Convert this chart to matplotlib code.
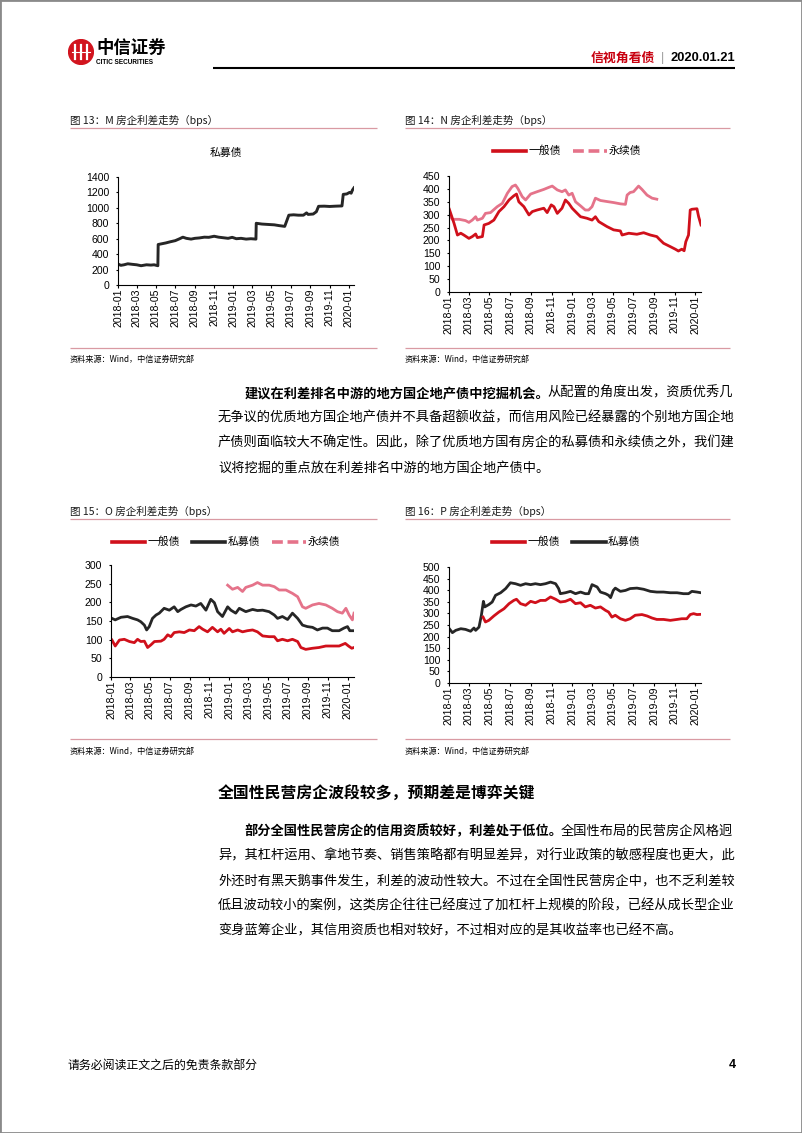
import matplotlib
matplotlib.use('Agg')
import matplotlib.pyplot as plt
import matplotlib.dates as mdates
from matplotlib.lines import Line2D
from matplotlib.patches import Circle, Rectangle
import pandas as pd

plt.rcParams['font.family'] = ['Noto Sans CJK SC', 'DejaVu Sans']

W, H = 802, 1133
RED = '#d0101b'
PINK = '#e5738a'
BLACK = '#262626'
RULE = '#d99aa3'
TICKFONT = ['Liberation Sans', 'DejaVu Sans']

# ---- chart 13: M 私募债
m_dates = ['2018-01-02', '2018-01-10', '2018-01-20', '2018-02-01', '2018-02-15', '2018-03-01',
           '2018-03-15', '2018-04-01', '2018-04-15', '2018-04-25', '2018-05-07', '2018-05-08',
           '2018-05-20', '2018-06-01', '2018-06-15', '2018-07-01', '2018-07-15', '2018-07-25',
           '2018-08-05', '2018-08-20', '2018-09-01', '2018-09-15', '2018-10-01', '2018-10-15',
           '2018-11-01', '2018-11-15', '2018-12-01', '2018-12-15', '2018-12-28', '2019-01-10',
           '2019-01-25', '2019-02-10', '2019-02-25', '2019-03-13', '2019-03-14', '2019-04-01',
           '2019-04-20', '2019-05-10', '2019-05-25', '2019-06-12', '2019-06-25', '2019-07-10',
           '2019-07-25', '2019-08-10', '2019-08-20', '2019-08-25', '2019-09-10', '2019-09-20',
           '2019-09-27', '2019-10-15', '2019-11-01', '2019-11-20', '2019-12-10', '2019-12-14',
           '2019-12-25', '2020-01-03', '2020-01-08', '2020-01-12', '2020-01-17']
m_private = [270, 255, 262, 275, 268, 262, 250, 262, 258, 262, 250, 525, 535, 545, 560, 575,
             600, 620, 605, 595, 605, 610, 620, 618, 632, 620, 612, 605, 618, 600, 605, 595,
             600, 595, 800, 790, 785, 780, 770, 760, 905, 910, 905, 905, 935, 915, 920, 950,
             1020, 1022, 1018, 1022, 1025, 1175, 1180, 1200, 1190, 1230, 1260]

# ---- chart 14: N 一般债 / 永续债
n_gen_dates = ['2018-01-02', '2018-01-16', '2018-01-26', '2018-02-05', '2018-02-14', '2018-03-01',
               '2018-03-11', '2018-03-21', '2018-03-26', '2018-04-10', '2018-04-15', '2018-04-29',
               '2018-05-14', '2018-05-29', '2018-06-13', '2018-06-28', '2018-07-12', '2018-07-20',
               '2018-07-27', '2018-08-11', '2018-08-26', '2018-09-05', '2018-09-19', '2018-10-09',
               '2018-10-19', '2018-10-31', '2018-11-08', '2018-11-18', '2018-12-02', '2018-12-12',
               '2018-12-22', '2019-01-01', '2019-01-16', '2019-01-26', '2019-02-14', '2019-03-01',
               '2019-03-11', '2019-03-21', '2019-04-14', '2019-05-04', '2019-05-24', '2019-05-29',
               '2019-06-18', '2019-07-12', '2019-08-01', '2019-08-21', '2019-09-09', '2019-09-17',
               '2019-09-29', '2019-10-19', '2019-11-03', '2019-11-12', '2019-11-22', '2019-11-29',
               '2019-12-04', '2019-12-12', '2019-12-17', '2019-12-22', '2020-01-06', '2020-01-11',
               '2020-01-18']
n_general = [321, 266, 221, 228, 221, 208, 215, 225, 211, 215, 260, 266, 279, 312, 331, 357,
             373, 380, 350, 331, 299, 312, 318, 325, 308, 338, 331, 305, 325, 357, 344, 325,
             305, 292, 286, 279, 292, 273, 254, 241, 237, 221, 228, 224, 230, 221, 215, 204,
             189, 176, 166, 159, 166, 160, 195, 221, 318, 321, 323, 292, 260]
n_perp_dates = ['2018-01-02', '2018-01-11', '2018-01-31', '2018-02-19', '2018-03-01', '2018-03-11',
                '2018-03-21', '2018-03-26', '2018-04-10', '2018-04-19', '2018-05-04', '2018-05-24',
                '2018-06-08', '2018-06-23', '2018-07-07', '2018-07-17', '2018-07-24', '2018-08-06',
                '2018-08-16', '2018-08-31', '2018-09-19', '2018-10-09', '2018-10-24', '2018-11-03',
                '2018-11-18', '2018-12-02', '2018-12-12', '2018-12-22', '2019-01-01', '2019-01-11',
                '2019-01-26', '2019-02-09', '2019-02-19', '2019-03-01', '2019-03-11', '2019-03-26',
                '2019-04-14', '2019-05-04', '2019-05-24', '2019-06-08', '2019-06-13', '2019-06-22',
                '2019-07-02', '2019-07-17', '2019-07-27', '2019-08-11', '2019-08-26', '2019-09-09']
n_perp = [299, 282, 282, 277, 270, 279, 292, 279, 286, 305, 308, 331, 344, 383, 409, 415,
          402, 370, 357, 380, 389, 398, 406, 411, 396, 389, 396, 376, 383, 350, 334, 318,
          318, 331, 364, 355, 351, 347, 342, 340, 376, 386, 389, 411, 398, 376, 364, 360]

# ---- chart 15: O 一般债 / 私募债 / 永续债
o_gen_dates = ['2018-01-04', '2018-01-14', '2018-01-27', '2018-02-11', '2018-02-27', '2018-03-14',
               '2018-03-24', '2018-04-03', '2018-04-14', '2018-04-24', '2018-05-04', '2018-05-15',
               '2018-06-04', '2018-06-14', '2018-06-25', '2018-07-05', '2018-07-15', '2018-07-31',
               '2018-08-15', '2018-08-31', '2018-09-15', '2018-09-30', '2018-10-11', '2018-10-26',
               '2018-11-10', '2018-11-26', '2018-12-06', '2018-12-16', '2019-01-01', '2019-01-11',
               '2019-01-27', '2019-02-11', '2019-02-26', '2019-03-14', '2019-03-29', '2019-04-14',
               '2019-05-04', '2019-05-20', '2019-05-30', '2019-06-14', '2019-06-30', '2019-07-15',
               '2019-07-31', '2019-08-10', '2019-08-25', '2019-09-15', '2019-10-05', '2019-10-26',
               '2019-11-15', '2019-12-06', '2019-12-25', '2020-01-04', '2020-01-14', '2020-01-21']
o_general = [99, 83, 99, 101, 95, 92, 101, 95, 96, 79, 86, 95, 96, 101, 113, 108, 119, 121,
             119, 126, 124, 135, 128, 121, 133, 121, 128, 117, 130, 121, 126, 121, 124, 126,
             121, 110, 108, 108, 97, 101, 97, 101, 95, 79, 74, 77, 79, 83, 83, 83, 90, 83, 77, 79]
o_pri_dates = ['2018-01-04', '2018-01-14', '2018-02-01', '2018-02-21', '2018-03-09', '2018-03-24',
               '2018-04-03', '2018-04-14', '2018-04-21', '2018-04-29', '2018-05-09', '2018-05-20',
               '2018-05-30', '2018-06-14', '2018-06-30', '2018-07-15', '2018-07-26', '2018-08-05',
               '2018-08-20', '2018-09-05', '2018-09-20', '2018-10-05', '2018-10-21', '2018-11-05',
               '2018-11-16', '2018-11-26', '2018-12-11', '2018-12-27', '2019-01-06', '2019-01-21',
               '2019-02-01', '2019-02-21', '2019-03-14', '2019-03-29', '2019-04-14', '2019-05-04',
               '2019-05-20', '2019-05-30', '2019-06-14', '2019-06-30', '2019-07-15', '2019-07-31',
               '2019-08-15', '2019-08-30', '2019-09-15', '2019-09-30', '2019-10-16', '2019-10-31',
               '2019-11-15', '2019-12-06', '2019-12-21', '2020-01-01', '2020-01-08', '2020-01-21']
o_private = [157, 153, 160, 162, 157, 153, 148, 139, 126, 135, 157, 166, 171, 184, 179, 188,
             175, 181, 188, 193, 190, 197, 179, 208, 199, 175, 162, 188, 179, 171, 184, 175,
             181, 178, 179, 175, 166, 157, 162, 154, 171, 157, 139, 135, 133, 126, 131, 131,
             124, 124, 131, 135, 124, 124]
o_perp_dates = ['2018-12-27', '2019-01-11', '2019-01-27', '2019-02-11', '2019-02-21', '2019-03-14',
                '2019-03-29', '2019-04-14', '2019-05-04', '2019-05-20', '2019-06-04', '2019-06-25',
                '2019-07-15', '2019-07-31', '2019-08-15', '2019-08-25', '2019-09-15', '2019-10-05',
                '2019-10-26', '2019-11-15', '2019-12-01', '2019-12-16', '2019-12-27', '2020-01-06',
                '2020-01-16', '2020-01-21']
o_perp = [246, 235, 240, 229, 240, 246, 253, 246, 246, 242, 233, 233, 224, 215, 188, 184,
          193, 197, 193, 184, 175, 171, 184, 166, 153, 171]

# ---- chart 16: P 一般债 / 私募债
p_gen_dates = ['2018-04-12', '2018-04-19', '2018-04-29', '2018-05-14', '2018-05-29', '2018-06-13',
               '2018-06-28', '2018-07-12', '2018-07-20', '2018-08-01', '2018-08-16', '2018-08-31',
               '2018-09-14', '2018-09-29', '2018-10-14', '2018-10-29', '2018-11-13', '2018-11-27',
               '2018-12-12', '2018-12-27', '2019-01-11', '2019-01-26', '2019-02-09', '2019-02-24',
               '2019-03-11', '2019-03-26', '2019-04-10', '2019-04-19', '2019-04-29', '2019-05-09',
               '2019-05-24', '2019-06-08', '2019-06-22', '2019-07-07', '2019-07-27', '2019-08-11',
               '2019-08-26', '2019-09-09', '2019-09-29', '2019-10-19', '2019-11-08', '2019-11-22',
               '2019-12-07', '2019-12-17', '2019-12-27', '2020-01-06', '2020-01-18']
p_general = [284, 263, 270, 289, 306, 320, 342, 356, 361, 342, 335, 352, 346, 356, 356, 371,
             361, 349, 352, 361, 342, 346, 328, 335, 323, 328, 313, 306, 284, 292, 277, 270,
             277, 292, 295, 289, 280, 274, 274, 270, 274, 277, 277, 295, 299, 295, 296]
p_pri_dates = ['2018-01-02', '2018-01-11', '2018-01-21', '2018-02-05', '2018-02-19', '2018-03-06',
               '2018-03-16', '2018-03-21', '2018-03-31', '2018-04-07', '2018-04-13', '2018-04-17',
               '2018-04-29', '2018-05-09', '2018-05-19', '2018-06-03', '2018-06-18', '2018-07-02',
               '2018-07-17', '2018-08-01', '2018-08-16', '2018-08-31', '2018-09-14', '2018-09-29',
               '2018-10-14', '2018-10-29', '2018-11-13', '2018-11-22', '2018-11-27', '2018-12-12',
               '2018-12-27', '2019-01-11', '2019-01-26', '2019-02-09', '2019-02-19', '2019-03-01',
               '2019-03-16', '2019-03-26', '2019-04-10', '2019-04-19', '2019-04-25', '2019-05-03',
               '2019-05-09', '2019-05-24', '2019-06-08', '2019-06-22', '2019-07-12', '2019-08-01',
               '2019-08-21', '2019-09-09', '2019-09-29', '2019-10-19', '2019-11-08', '2019-11-27',
               '2019-12-12', '2019-12-22', '2020-01-06', '2020-01-18']
p_private = [234, 217, 227, 234, 231, 223, 237, 227, 241, 292, 352, 328, 338, 349, 378, 389,
             407, 432, 428, 421, 428, 424, 428, 424, 428, 435, 428, 407, 385, 389, 395, 385,
             392, 385, 385, 424, 414, 392, 385, 378, 368, 399, 409, 395, 399, 407, 409, 404,
             395, 392, 392, 389, 389, 385, 385, 395, 392, 389]

xtick_dates = pd.date_range('2018-01-01', '2020-01-01', freq='2MS')

fig = plt.figure(figsize=(W / 100, H / 100), dpi=100)


def fx(x):
    return x / W


def fy(y):
    return 1 - y / H


def hline(x1, x2, y, color, lw):
    fig.add_artist(Line2D([fx(x1), fx(x2)], [fy(y), fy(y)], transform=fig.transFigure,
                          color=color, lw=lw, solid_capstyle='butt'))


def make_ax(left, right, top, bottom, end, ymax, ystep):
    ax = fig.add_axes([fx(left), fy(bottom), (right - left) / W, (bottom - top) / H])
    ax.set_xlim(pd.Timestamp('2018-01-01'), pd.Timestamp(end))
    ax.set_ylim(0, ymax)
    ax.set_yticks(range(0, ymax + 1, ystep))
    ax.set_xticks(xtick_dates)
    ax.xaxis.set_major_formatter(mdates.DateFormatter('%Y-%m'))
    for s in ['top', 'right']:
        ax.spines[s].set_visible(False)
    for s in ['left', 'bottom']:
        ax.spines[s].set_color('#000000')
        ax.spines[s].set_linewidth(0.8)
    ax.tick_params(axis='y', direction='out', length=1.8, width=0.8, pad=4.5, labelsize=7.6)
    ax.tick_params(axis='x', direction='out', length=1.8, width=0.8, pad=0.5, labelsize=7.6,
                   labelrotation=90)
    for lab in ax.get_xticklabels() + ax.get_yticklabels():
        lab.set_family(TICKFONT)
    ax.patch.set_alpha(0)
    return ax


def chart_frame(x1, x2, y_title, y_rule, y_src_rule, y_src, title):
    fig.text(fx(x1), fy(y_title), title, fontsize=7.6, va='center', color='#1a1a1a')
    hline(x1, x2, y_rule, RULE, 0.9)
    hline(x1, x2, y_src_rule, RULE, 0.9)
    fig.text(fx(x1), fy(y_src), '资料来源：Wind，中信证券研究部', fontsize=5.9, va='center')


def add_legend(ax, handles, labels, cx, cy):
    ax.legend(handles, labels, loc='center', bbox_to_anchor=(fx(cx), fy(cy)),
              bbox_transform=fig.transFigure, ncol=len(handles), frameon=False,
              fontsize=7.8, handlelength=3.1, handletextpad=0.2, columnspacing=1.1,
              borderpad=0, borderaxespad=0)


def h_red():
    return Line2D([], [], color=RED, lw=2.6)


def h_black():
    return Line2D([], [], color=BLACK, lw=2.6)


def h_pink():
    return Line2D([], [], color=PINK, lw=2.6, ls=(0, (3, 1.3)))


# ---------------- page frame and header
fig.add_artist(Rectangle((0, 0), 1, 1, transform=fig.transFigure, fill=False,
                         ec='#8a8a8a', lw=2))
lax = fig.add_axes([fx(68), fy(66), 26 / W, 28 / H])
lax.set_xlim(-1.05, 1.05)
lax.set_ylim(-1.05, 1.05)
lax.set_aspect('equal')
lax.axis('off')
lax.add_patch(Circle((0, 0), 1, color='#d2141e'))
for xs in (-0.45, 0.0, 0.45):
    lax.plot([xs, xs], [-0.55, 0.55], color='white', lw=1.6)
lax.plot([-0.7, 0.7], [0.0, 0.0], color='white', lw=0.8)
fig.text(fx(96), fy(48), '中信证券', fontsize=12.5, fontweight='bold', va='center')
fig.text(fx(96), fy(62), 'CITIC SECURITIES', fontsize=4.7, fontweight='bold', va='center',
         family=TICKFONT)

fig.text(fx(735), fy(58), '2020.01.21', fontsize=9.3, fontweight='bold', ha='right',
         va='center', family=TICKFONT)
fig.text(fx(662), fy(58), '|', fontsize=9, ha='center', va='center', color='#9a9a9a',
         family=TICKFONT)
fig.text(fx(655), fy(58), '信视角看债', fontsize=9.3, fontweight='bold', ha='right',
         va='center', color='#c8000f')
hline(213, 735, 68, '#000000', 1.5)

# ---------------- chart 13
chart_frame(70, 377, 120, 128, 347.5, 359, '图 13：M 房企利差走势（bps）')
ax13 = make_ax(118, 354, 177, 285, '2020-01-17', 1400, 200)
ax13.plot(pd.to_datetime(m_dates), m_private, color=BLACK, lw=2.1)
fig.text(fx(226), fy(153), '私募债', fontsize=7.8, ha='center', va='center')

# ---------------- chart 14
chart_frame(405, 730, 120, 128, 347.5, 359, '图 14：N 房企利差走势（bps）')
ax14 = make_ax(449, 701, 176, 292, '2020-01-18', 450, 50)
ax14.plot(pd.to_datetime(n_perp_dates), n_perp, color=PINK, lw=2.0)
ax14.plot(pd.to_datetime(n_gen_dates), n_general, color=RED, lw=2.0)
add_legend(ax14, [h_red(), h_pink()], ['一般债', '永续债'], 567, 151)

# ---------------- chart 15
chart_frame(70, 377, 511, 519, 739, 751, '图 15：O 房企利差走势（bps）')
ax15 = make_ax(111, 354, 565, 677, '2020-01-21', 300, 50)
ax15.plot(pd.to_datetime(o_perp_dates), o_perp, color=PINK, lw=2.0)
ax15.plot(pd.to_datetime(o_pri_dates), o_private, color=BLACK, lw=2.0)
ax15.plot(pd.to_datetime(o_gen_dates), o_general, color=RED, lw=2.0)
add_legend(ax15, [h_red(), h_black(), h_pink()], ['一般债', '私募债', '永续债'], 226, 542)

# ---------------- chart 16
chart_frame(405, 730, 511, 519, 739, 751, '图 16：P 房企利差走势（bps）')
ax16 = make_ax(449, 701, 567, 683, '2020-01-18', 500, 50)
ax16.plot(pd.to_datetime(p_pri_dates), p_private, color=BLACK, lw=2.0)
ax16.plot(pd.to_datetime(p_gen_dates), p_general, color=RED, lw=2.0)
add_legend(ax16, [h_red(), h_black()], ['一般债', '私募债'], 566, 542)

# ---------------- body text
BODY = 9.5
PITCH = BODY * 100 / 72


def body_line(x, y, bold='', regular=''):
    if bold:
        fig.text(fx(x), fy(y), bold, fontsize=BODY, fontweight='bold', va='center')
        x += len(bold) * PITCH
    if regular:
        fig.text(fx(x), fy(y), regular, fontsize=BODY, va='center')


body_line(218 + 2 * PITCH, 393, '建议在利差排名中游的地方国企地产债中挖掘机会。', '从配置的角度出发，资质优秀几')
body_line(218, 418, '', '无争议的优质地方国企地产债并不具备超额收益，而信用风险已经暴露的个别地方国企地')
body_line(218, 443, '', '产债则面临较大不确定性。因此，除了优质地方国有房企的私募债和永续债之外，我们建')
body_line(218, 468, '', '议将挖掘的重点放在利差排名中游的地方国企地产债中。')

fig.text(fx(218), fy(793), '全国性民营房企波段较多，预期差是博弈关键', fontsize=11.4,
         fontweight='bold', va='center')

body_line(218 + 2 * PITCH, 831, '部分全国性民营房企的信用资质较好，利差处于低位。', '全国性布局的民营房企风格迥')
body_line(218, 856, '', '异，其杠杆运用、拿地节奏、销售策略都有明显差异，对行业政策的敏感程度也更大，此')
body_line(218, 881, '', '外还时有黑天鹅事件发生，利差的波动性较大。不过在全国性民营房企中，也不乏利差较')
body_line(218, 906, '', '低且波动较小的案例，这类房企往往已经度过了加杠杆上规模的阶段，已经从成长型企业')
body_line(218, 931, '', '变身蓝筹企业，其信用资质也相对较好，不过相对应的是其收益率也已经不高。')

# ---------------- footer
fig.text(fx(68), fy(1065), '请务必阅读正文之后的免责条款部分', fontsize=8.6, va='center')
fig.text(fx(736), fy(1065), '4', fontsize=9, fontweight='bold', ha='right', va='center',
         family=TICKFONT)

fig.savefig('out.png', dpi=100)
